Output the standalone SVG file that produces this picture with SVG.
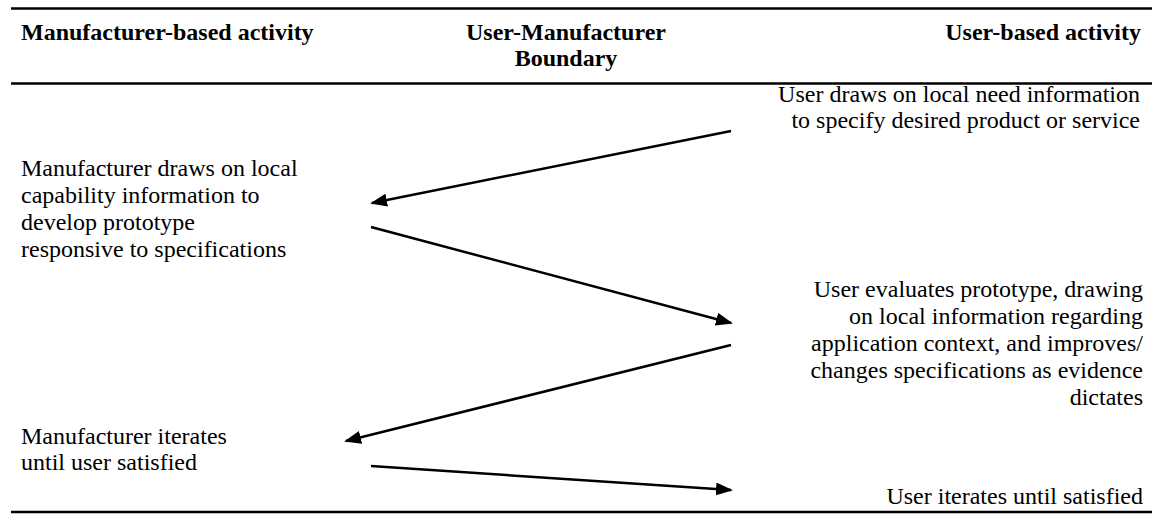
<svg xmlns="http://www.w3.org/2000/svg" width="1155" height="516" viewBox="0 0 1155 516">
<defs>
<style>
.h{font-weight:bold}
.r{text-anchor:end}
.c{text-anchor:middle}
.rule{stroke:#000;stroke-width:2.5}
.arr{stroke:#000;stroke-width:2.5;fill:none;marker-end:url(#ah)}
</style>
<marker id="ah" markerUnits="userSpaceOnUse" markerWidth="18" markerHeight="14" refX="15" refY="6.5" orient="auto">
<path d="M0,0 L17,6.5 L0,13 z" fill="#000"/>
</marker>
</defs>
<rect width="1155" height="516" fill="#fff"/>
<g id="rules">
<line class="rule" x1="11" y1="8.5" x2="1152" y2="8.5"/>
<line class="rule" x1="11" y1="83.5" x2="1152" y2="83.5"/>
<line class="rule" x1="11" y1="512" x2="1152" y2="512"/>
</g>
<g font-family="Liberation Serif" font-size="24" fill="#000">
<g id="headers">
<text class="h" x="21" y="40">Manufacturer-based activity</text>
<text class="h c" x="566" y="40">User-Manufacturer</text>
<text class="h c" x="566" y="66">Boundary</text>
<text class="h r" x="1141" y="40">User-based activity</text>
</g>
<g id="user-specify">
<text class="r" x="1140" y="102">User draws on local need information</text>
<text class="r" x="1140" y="128">to specify desired product or service</text>
</g>
<g id="mfr-develop">
<text x="21" y="176">Manufacturer draws on local</text>
<text x="21" y="203">capability information to</text>
<text x="21" y="230">develop prototype</text>
<text x="21" y="257">responsive to specifications</text>
</g>
<g id="user-evaluate">
<text class="r" x="1143" y="297">User evaluates prototype, drawing</text>
<text class="r" x="1143" y="324">on local information regarding</text>
<text class="r" x="1143" y="351">application context, and improves/</text>
<text class="r" x="1143" y="378">changes specifications as evidence</text>
<text class="r" x="1143" y="405">dictates</text>
</g>
<g id="mfr-iterate">
<text x="21" y="444">Manufacturer iterates</text>
<text x="21" y="470">until user satisfied</text>
</g>
<g id="user-iterate">
<text class="r" x="1143" y="504">User iterates until satisfied</text>
</g>
</g>
<g id="connectors">
<line class="arr" x1="731" y1="131" x2="372" y2="203"/>
<line class="arr" x1="371" y1="227" x2="731" y2="323"/>
<line class="arr" x1="731" y1="345" x2="346" y2="441"/>
<line class="arr" x1="371" y1="466" x2="731" y2="490"/>
</g>
</svg>
